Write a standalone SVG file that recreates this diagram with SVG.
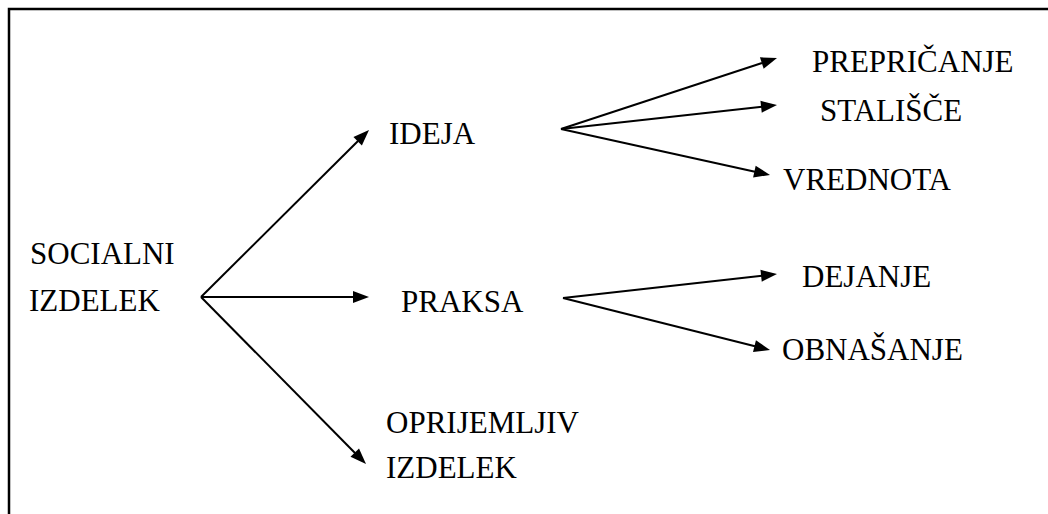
<svg xmlns="http://www.w3.org/2000/svg" width="1048" height="514" viewBox="0 0 1048 514">
  <rect width="1048" height="514" fill="#fff"/>
  <!-- page frame: left and top edges only visible -->
  <path d="M9,520 V9 H1060" stroke="#000" stroke-width="2.5" fill="none"/>

  <g id="connectors">
    <g stroke="#000" stroke-width="2" fill="none">
      <line x1="201" y1="297" x2="358" y2="141"/>
      <line x1="201" y1="297" x2="354" y2="297"/>
      <line x1="201" y1="297" x2="355" y2="453"/>
      <line x1="561" y1="129" x2="762" y2="63"/>
      <line x1="561" y1="129" x2="762" y2="106.7"/>
      <line x1="561" y1="129" x2="755" y2="171.7"/>
      <line x1="563" y1="298" x2="762" y2="275.7"/>
      <line x1="563" y1="298" x2="755" y2="346.2"/>
    </g>
    <g fill="#000">
      <polygon points="369,130 361.88,145.54 353.42,137.02"/>
      <polygon points="369,297 353,303 353,291"/>
      <polygon points="366,464 350.49,456.84 359.03,448.40"/>
      <polygon points="777,58 763.67,68.70 759.93,57.30"/>
      <polygon points="777,105 761.76,112.73 760.44,100.81"/>
      <polygon points="770,175 753.08,177.42 755.66,165.70"/>
      <polygon points="777,274 761.77,281.74 760.43,269.82"/>
      <polygon points="770,350 753.02,351.92 755.94,340.28"/>
    </g>
  </g>

  <g id="socialni-izdelek">
    <text x="30" y="264" font-family="Times New Roman, Liberation Serif, serif" font-size="31">SOCIALNI</text>
    <text x="29" y="311" font-family="Times New Roman, Liberation Serif, serif" font-size="31">IZDELEK</text>
  </g>
  <g id="ideja"><text x="389" y="144" font-family="Times New Roman, Liberation Serif, serif" font-size="31">IDEJA</text></g>
  <g id="praksa"><text x="401" y="312" font-family="Times New Roman, Liberation Serif, serif" font-size="31">PRAKSA</text></g>
  <g id="oprijemljiv-izdelek">
    <text x="386" y="433" font-family="Times New Roman, Liberation Serif, serif" font-size="31">OPRIJEMLJIV</text>
    <text x="386" y="478" font-family="Times New Roman, Liberation Serif, serif" font-size="31">IZDELEK</text>
  </g>
  <g id="prepricanje"><text x="812" y="72" font-family="Times New Roman, Liberation Serif, serif" font-size="31">PREPRIČANJE</text></g>
  <g id="stalisce"><text x="820" y="121" font-family="Times New Roman, Liberation Serif, serif" font-size="31">STALIŠČE</text></g>
  <g id="vrednota"><text x="783" y="190" font-family="Times New Roman, Liberation Serif, serif" font-size="31">VREDNOTA</text></g>
  <g id="dejanje"><text x="802" y="287" font-family="Times New Roman, Liberation Serif, serif" font-size="31">DEJANJE</text></g>
  <g id="obnasanje"><text x="782" y="360" font-family="Times New Roman, Liberation Serif, serif" font-size="31">OBNAŠANJE</text></g>
</svg>
